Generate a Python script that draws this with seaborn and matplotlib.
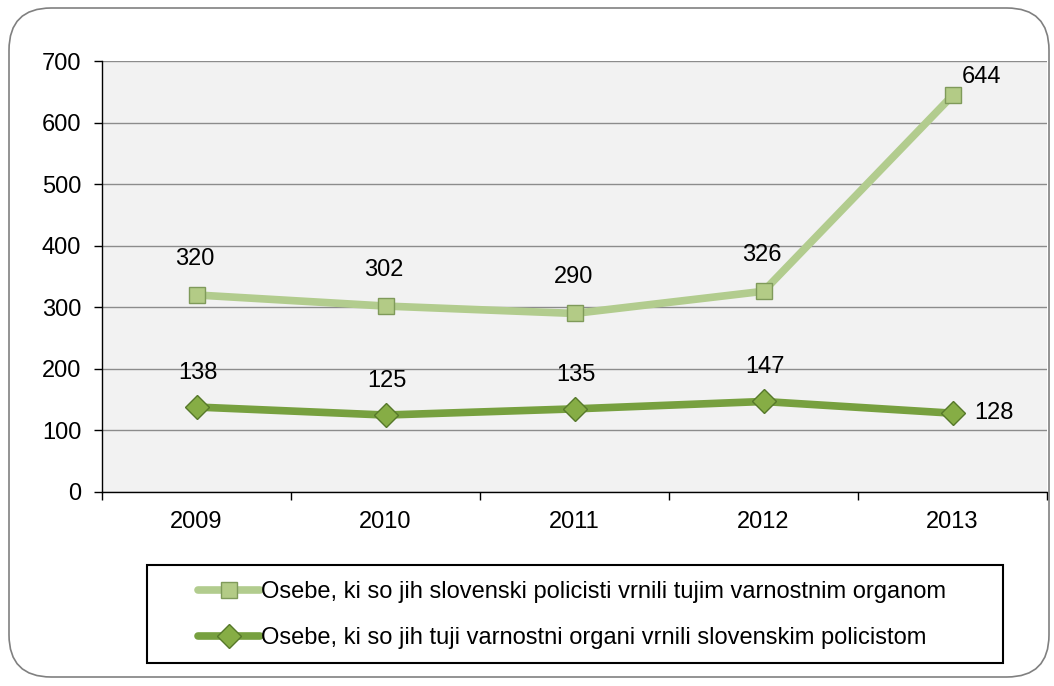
import matplotlib
matplotlib.use("Agg")
import matplotlib.pyplot as plt
import seaborn as sns
import pandas as pd
from matplotlib.patches import FancyBboxPatch, Rectangle
from matplotlib.lines import Line2D

years = ["2009", "2010", "2011", "2012", "2013"]
returned_by_slo = [320, 302, 290, 326, 644]
returned_to_slo = [138, 125, 135, 147, 128]
series_names = [
    "Osebe, ki so jih slovenski policisti vrnili tujim varnostnim organom",
    "Osebe, ki so jih tuji varnostni organi vrnili slovenskim policistom",
]

sns.set_theme(style="white")
plt.rcParams['font.family'] = ['Liberation Sans', 'DejaVu Sans']
plt.rcParams['text.color'] = 'black'

df = pd.DataFrame({
    "idx": list(range(len(years))) * 2,
    "value": returned_by_slo + returned_to_slo,
    "series": [series_names[0]] * len(years) + [series_names[1]] * len(years),
})

light = "#B2CC8E"
dark = "#77A03F"
FS = 17

fig = plt.figure(figsize=(10.54, 6.86), dpi=100)
fig.patch.set_facecolor("white")
ax = fig.add_axes([102/1054, 1-492/686, 945/1054, (492-61)/686])
ax.set_facecolor("#F2F2F2")

sns.lineplot(data=df, x="idx", y="value", hue="series", style="series",
             palette=[light, dark], markers=["s", "D"], dashes=False,
             linewidth=5.5, markersize=12, markeredgewidth=1.0,
             ax=ax, legend=False, zorder=3)
for line, ec, fc in zip(ax.lines, ["#7F9A5A", "#56782A"], ["#B3CB86", "#86AD45"]):
    line.set_markerfacecolor(fc)
    line.set_markeredgecolor(ec)
ax.lines[1].set_markersize(12.5)

ax.set_xlim(-0.5, len(years) - 0.5)
ax.set_ylim(0, 700)
ax.set_yticks(range(0, 701, 100))
ax.set_xticks(range(len(years)))
ax.set_xticklabels(years)
ax.set_xticks([i - 0.5 for i in range(len(years) + 1)], minor=True)
ax.tick_params(axis="x", which="major", length=0, labelsize=FS, pad=14, colors="black")
ax.tick_params(axis="x", which="minor", length=6, width=1, direction="out", color="black", bottom=True)
ax.tick_params(axis="y", which="major", length=6, width=1, direction="out", color="black",
               labelsize=FS, pad=9, left=True, colors="black")
ax.set_xlabel("")
ax.set_ylabel("")
ax.yaxis.grid(True, color="#8C8C8C", linewidth=1)
ax.set_axisbelow(True)
for s in ["top", "right"]:
    ax.spines[s].set_visible(False)
for s in ["left", "bottom"]:
    ax.spines[s].set_color("black")
    ax.spines[s].set_linewidth(1)

# data labels
for i, v in enumerate(returned_by_slo):
    if i == len(years) - 1:
        ax.annotate(str(v), (i, v), xytext=(6.5, 13), textcoords="offset points",
                    ha="left", va="center", fontsize=FS, color="black")
    else:
        ax.annotate(str(v), (i, v), xytext=(-1, 26), textcoords="offset points",
                    ha="center", va="center", fontsize=FS, color="black")
for i, v in enumerate(returned_to_slo):
    if i == len(years) - 1:
        ax.annotate(str(v), (i, v), xytext=(16, 0), textcoords="offset points",
                    ha="left", va="center", fontsize=FS, color="black")
    else:
        ax.annotate(str(v), (i, v), xytext=(1, 24.5), textcoords="offset points",
                    ha="center", va="center", fontsize=FS, color="black")

# legend box
fig.patches.append(Rectangle((147/1054, 1-663/686), (1003-147)/1054, (663-565)/686,
                             transform=fig.transFigure, fill=False,
                             edgecolor="black", linewidth=1.5))
handles = [
    Line2D([], [], color=light, linewidth=5.5, marker="s", markersize=12,
           markerfacecolor="#B3CB86", markeredgecolor="#7F9A5A"),
    Line2D([], [], color=dark, linewidth=5.5, marker="D", markersize=12,
           markerfacecolor="#86AD45", markeredgecolor="#56782A"),
]
leg = fig.legend(handles, series_names, loc="center", bbox_to_anchor=(572/1054, 1-615/686),
                 frameon=False, fontsize=FS, handlelength=2.6, handletextpad=0.05,
                 labelspacing=1.0, borderpad=0)
for t in leg.get_texts():
    t.set_color("black")

# outer rounded border
fig.patches.append(FancyBboxPatch((9/1054, 9/686), (1049-9)/1054, (678-9)/686,
                                  boxstyle="round,pad=0,rounding_size=0.04",
                                  transform=fig.transFigure, fill=False,
                                  edgecolor="#808080", linewidth=1.2,
                                  mutation_aspect=1054/686))

fig.savefig("out.png", dpi=100)
